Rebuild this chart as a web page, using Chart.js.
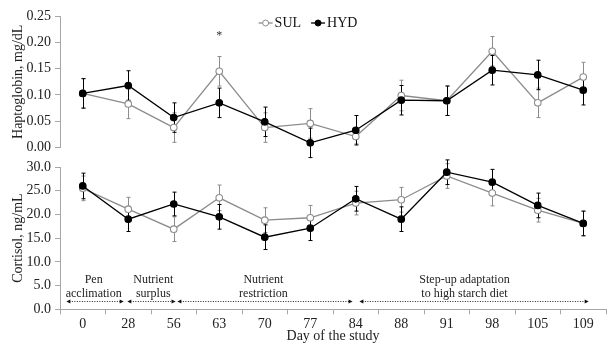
<!DOCTYPE html>
<html><head><meta charset="utf-8">
<script src="https://cdn.jsdelivr.net/npm/chart.js@4.4.1/dist/chart.umd.min.js"></script>
<style>
html,body{margin:0;padding:0;background:#fff;}
#wrap{position:relative;width:614px;height:345px;overflow:hidden;}
#top{position:absolute;left:0;top:0;width:614px;height:160px;}
#bot{position:absolute;left:0;top:150px;width:614px;height:195px;}
</style></head><body>
<div id="wrap"><div id="top"><canvas id="c1" width="614" height="160"></canvas></div><div id="bot"><canvas id="c2" width="614" height="195"></canvas></div></div>
<script>
// ---- data ----
const days = ['0','28','56','63','70','77','84','88','91','98','105','109'];
const hpSUL    = [0.103,0.083,0.038,0.145,0.038,0.046,0.021,0.099,0.089,0.183,0.085,0.134];
const hpSULse  = [0.028,0.028,0.028,0.028,0.028,0.028,0.014,0.029,0.028,0.028,0.028,0.028];
const hpHYD    = [0.103,0.118,0.057,0.085,0.049,0.009,0.033,0.090,0.089,0.147,0.138,0.109];
const hpHYDse  = [0.028,0.028,0.028,0.028,0.028,0.028,0.028,0.028,0.028,0.028,0.028,0.028];
const coSUL    = [25.5,21.1,16.9,23.5,18.8,19.3,22.4,23.1,28.1,24.5,20.9,18.1];
const coSULse  = [2.6,2.5,2.6,2.7,2.6,2.6,2.5,2.6,2.6,2.7,2.5,2.6];
const coHYD    = [26.0,19.0,22.2,19.5,15.2,17.1,23.3,19.0,28.9,26.8,21.9,18.1];
const coHYDse  = [2.7,2.6,2.5,2.6,2.6,2.6,2.6,2.6,2.6,2.7,2.6,2.6];
const hpTicks = [0,0.05,0.10,0.15,0.20,0.25];
const coTicks = [0,5,10,15,20,25,30];
const seriesNames = ['SUL','HYD'];
const phaseLabels = [['Pen','acclimation'],['Nutrient','surplus'],['Nutrient','restriction'],['Step-up adaptation','to high starch diet']];
// layout of phase arrows (category index units)
const phaseLayout = [{from:-0.36,to:0.90,cx:0.24},{from:0.98,to:2.04,cx:1.55},{from:2.08,to:5.93,cx:3.97},{from:6.08,to:11.12,cx:8.39}];

const FONT = "'Liberation Serif','Times New Roman',serif";
const GREY = '#8c8c8c';
const AXIS = '#a6a6a6';

const errorBars = {
  id:'errorBars',
  beforeDatasetsDraw(chart){
    const ctx = chart.ctx;
    const y = chart.scales.y;
    chart.data.datasets.forEach((ds,i)=>{
      const meta = chart.getDatasetMeta(i);
      ctx.save();
      ctx.strokeStyle = ds.borderColor;
      ctx.lineWidth = 1;
      meta.data.forEach((pt,j)=>{
        const v = ds.data[j], e = ds.err[j];
        const y1 = y.getPixelForValue(v+e), y2 = y.getPixelForValue(v-e);
        const x = Math.round(pt.x)+0.5;
        ctx.beginPath();
        ctx.moveTo(x,y1); ctx.lineTo(x,y2);
        ctx.moveTo(x-2,y1); ctx.lineTo(x+2,y1);
        ctx.moveTo(x-2,y2); ctx.lineTo(x+2,y2);
        ctx.stroke();
      });
      ctx.restore();
    });
  }
};

const legendPlugin = {
  id:'customLegend',
  afterDraw(chart){
    const ctx = chart.ctx;
    ctx.save();
    ctx.font = '14px ' + FONT;
    ctx.textBaseline = 'middle';
    const y = 23;
    const items = [
      {name:seriesNames[0], stroke:GREY, fill:'#fff', line:GREY},
      {name:seriesNames[1], stroke:'#000', fill:'#000', line:'#000'}
    ];
    const seg = 14, gap = 2, between = 10;
    let total = 0;
    items.forEach((it,k)=>{ total += seg + gap + ctx.measureText(it.name).width + (k? 0: between); });
    let x = 308 - total/2;
    items.forEach(it=>{
      ctx.strokeStyle = it.line; ctx.lineWidth = 1.3;
      ctx.beginPath(); ctx.moveTo(x,y); ctx.lineTo(x+seg,y); ctx.stroke();
      ctx.beginPath(); ctx.arc(x+seg/2,y,3,0,Math.PI*2);
      ctx.fillStyle = it.fill; ctx.fill();
      ctx.lineWidth = 1; ctx.strokeStyle = it.stroke; ctx.stroke();
      x += seg + gap;
      ctx.fillStyle = '#111';
      ctx.fillText(it.name, x, y+0.5);
      x += ctx.measureText(it.name).width + between;
    });
    // significance asterisk at day 63
    const xs = chart.scales.x, ys = chart.scales.y;
    ctx.font = '12px ' + FONT;
    ctx.textAlign = 'center';
    ctx.textBaseline = 'middle';
    ctx.fillStyle = '#333';
    ctx.fillText('*', xs.getPixelForValue(3), ys.getPixelForValue(0.212));
    ctx.restore();
  }
};

const phasePlugin = {
  id:'phases',
  afterDraw(chart){
    const ctx = chart.ctx;
    const xs = chart.scales.x, ys = chart.scales.y;
    const ay = Math.round(ys.getPixelForValue(1.8))+0.5;
    ctx.save();
    phaseLayout.forEach((p,k)=>{
      const x1 = xs.getPixelForValue(p.from), x2 = xs.getPixelForValue(p.to);
      ctx.strokeStyle = '#222'; ctx.lineWidth = 1;
      ctx.setLineDash([1,1.5]);
      ctx.beginPath(); ctx.moveTo(x1+3,ay); ctx.lineTo(x2-3,ay); ctx.stroke();
      ctx.setLineDash([]);
      ctx.fillStyle = '#111';
      ctx.beginPath(); ctx.moveTo(x1,ay); ctx.lineTo(x1+4,ay-2); ctx.lineTo(x1+4,ay+2); ctx.closePath(); ctx.fill();
      ctx.beginPath(); ctx.moveTo(x2,ay); ctx.lineTo(x2-4,ay-2); ctx.lineTo(x2-4,ay+2); ctx.closePath(); ctx.fill();
      ctx.font = '12px ' + FONT;
      ctx.textAlign = 'center'; ctx.textBaseline = 'middle';
      ctx.fillStyle = '#222';
      const cx = xs.getPixelForValue(p.cx);
      ctx.fillText(phaseLabels[k][0], cx, ay-22);
      ctx.fillText(phaseLabels[k][1], cx, ay-8);
    });
    ctx.restore();
  }
};

function ds(label, data, err, isHyd){
  return {
    label, data, err,
    borderColor: isHyd ? '#000' : GREY,
    backgroundColor: isHyd ? '#000' : '#fff',
    pointBackgroundColor: isHyd ? '#000' : '#fff',
    pointBorderColor: isHyd ? '#000' : GREY,
    pointRadius: 3.3, pointBorderWidth: 1.1, pointHoverRadius: 3.3,
    borderWidth: 1.3, tension: 0, fill: false,
    order: isHyd ? 0 : 1
  };
}

function yScale(min,max,step,dec,title,pad){
  return {
    min, max,
    border:{display:true,color:AXIS,width:1},
    grid:{drawOnChartArea:false,drawTicks:true,tickLength:5,color:AXIS},
    ticks:{stepSize:step,padding:4,color:'#222',font:{family:FONT,size:14},callback:v=>Number(v).toFixed(dec)},
    title:{display:true,text:title,color:'#222',font:{family:FONT,size:14},padding:{top:pad,bottom:0}},
    afterFit(s){ s.width = 60; }
  };
}

Chart.defaults.animation = false;

new Chart(document.getElementById('c1'), {
  type:'line',
  data:{labels:days, datasets:[ds(seriesNames[0],hpSUL,hpSULse,false), ds(seriesNames[1],hpHYD,hpHYDse,true)]},
  options:{
    responsive:false, animation:false,
    layout:{padding:{top:16,right:8,bottom:10.7,left:0}},
    plugins:{legend:{display:false},tooltip:{enabled:false}},
    scales:{
      x:{display:false, offset:true},
      y:yScale(hpTicks[0],hpTicks[hpTicks.length-1],hpTicks[1]-hpTicks[0],2,'Haptoglobin, mg/dL',10)
    }
  },
  plugins:[errorBars, legendPlugin]
});

new Chart(document.getElementById('c2'), {
  type:'line',
  data:{labels:days, datasets:[ds(seriesNames[0],coSUL,coSULse,false), ds(seriesNames[1],coHYD,coHYDse,true)]},
  options:{
    responsive:false, animation:false,
    layout:{padding:{top:17,right:8,bottom:0,left:0}},
    plugins:{legend:{display:false},tooltip:{enabled:false}},
    scales:{
      x:{
        offset:true,
        border:{display:true,color:AXIS,width:1},
        grid:{offset:true,drawOnChartArea:false,drawTicks:true,tickLength:5,color:AXIS},
        ticks:{padding:2,color:'#222',font:{family:FONT,size:14},maxRotation:0,autoSkip:false},
        title:{display:true,text:'Day of the study',color:'#222',font:{family:FONT,size:14},padding:{top:0,bottom:0}},
        afterFit(s){ s.height = 35.7; }
      },
      y:yScale(coTicks[0],coTicks[coTicks.length-1],coTicks[1]-coTicks[0],1,'Cortisol, ng/mL',10)
    }
  },
  plugins:[errorBars, phasePlugin]
});
</script>
</body></html>
